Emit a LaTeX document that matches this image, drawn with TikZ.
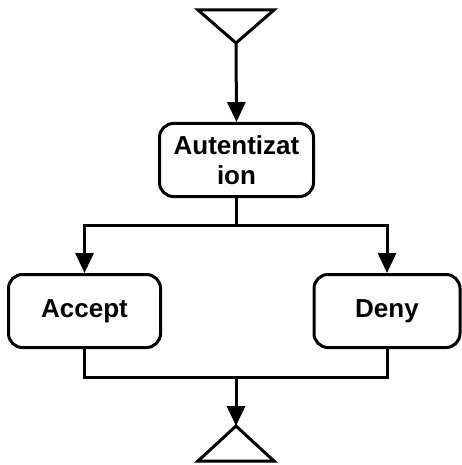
\documentclass[tikz,border=0pt]{standalone}
\usepackage{fontspec}
\setmainfont{Liberation Sans}
\usetikzlibrary{arrows.meta, positioning, calc}

\begin{document}
\begin{tikzpicture}[x=1pt, y=-1pt, line width=3pt,
    >={Triangle[length=20pt, width=18pt]},
    actbox/.style={draw, rounded corners=14pt, inner sep=0pt, minimum height=73pt,
                   align=center, font=\fontsize{26}{30}\selectfont\bfseries},
    flow/.style={->}]
    \useasboundingbox (0,0) rectangle (461,465);

    % Start and end marks
    \draw (198,10) -- (274,10) -- (236,43) coordinate (start) -- cycle;
    \draw (198,461) -- (274,461) -- (236,426) coordinate (stop) -- cycle;

    % Activities
    \node[actbox, minimum width=154pt] (auth) at (236.5,160) {Autentizat\\ion};
    \node[actbox, minimum width=152pt] (accept) at (84.5,311) {Accept};
    \node[actbox, minimum width=146pt] (deny) at (387,311) {Deny};

    % Branch
    \draw[flow] (start) -- (auth.north);
    \draw (auth.south) -- ++(0,27) coordinate (split);
    \draw[flow] (split) -| (accept.north);
    \draw[flow] (split) -| (deny.north);

    % Merge
    \coordinate (join) at (236,377);
    \draw (accept.south) |- (join) -| (deny.south);
    \draw[flow] (join) -- (stop);
\end{tikzpicture}
\end{document}
